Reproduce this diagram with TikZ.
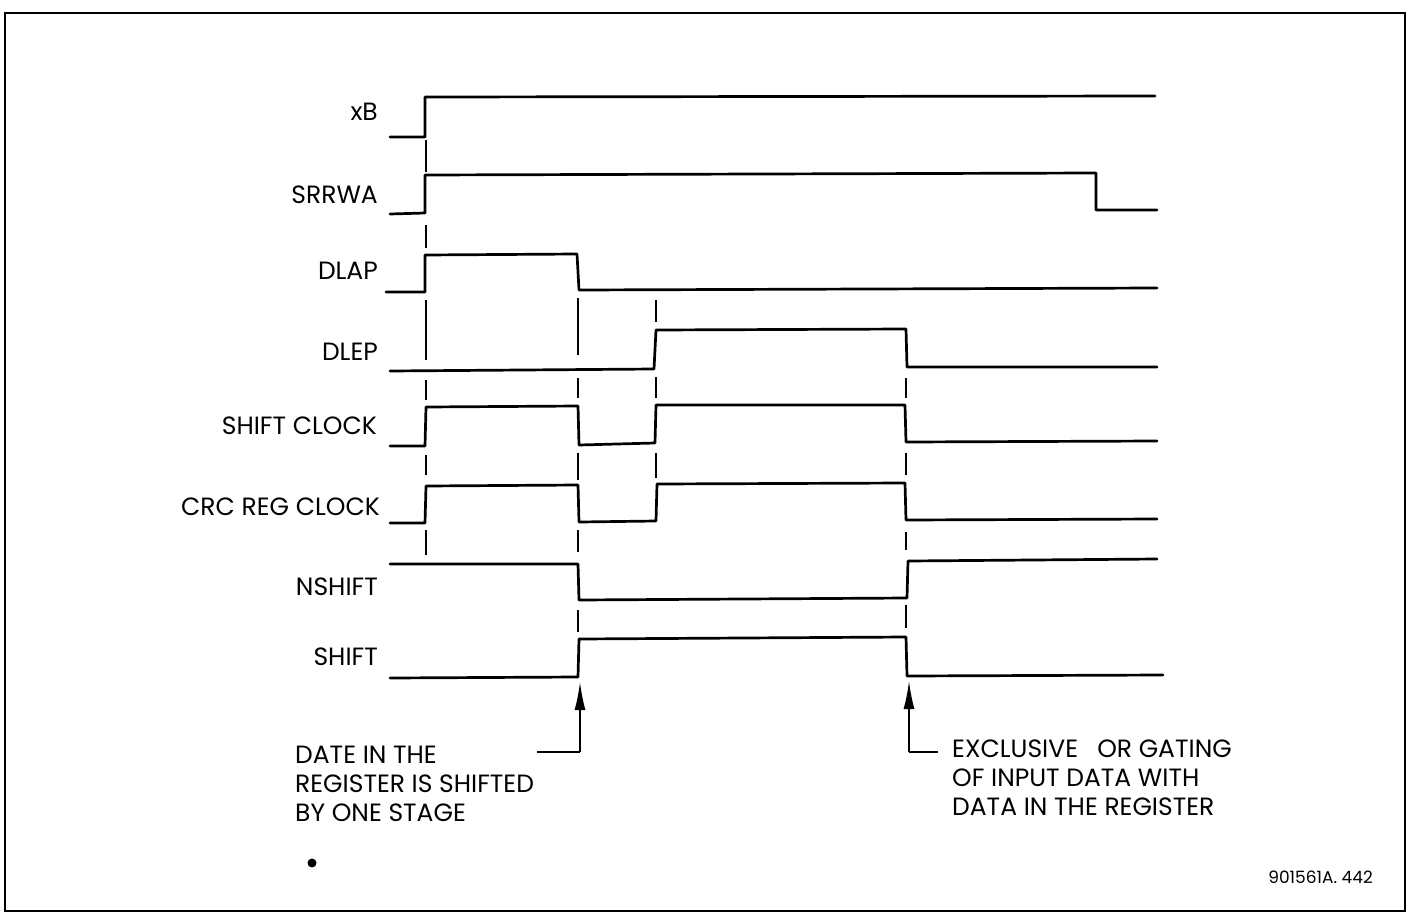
\documentclass[tikz,border=0pt]{standalone}
\usepackage{fontspec}
\setmainfont{Poppins}
\usetikzlibrary{arrows.meta}
\tikzset{
  wave/.style={line width=2.7pt, line join=round, line cap=round},
  guide/.style={line width=1.6pt},
  leader/.style={line width=1.8pt},
  pointer/.style={line width=1.8pt, -{Latex[length=28pt,width=11pt]}},
  sig/.style={anchor=base east, inner sep=0pt, font=\fontsize{25}{29}\selectfont},
  note/.style={anchor=base west, inner sep=0pt, align=left, font=\fontsize{25}{29}\selectfont},
  frame/.style={line width=2.8pt}
}
\begin{document}
\begin{tikzpicture}[x=1pt,y=-1pt]
\useasboundingbox (0,0) rectangle (1413,913);
\draw[frame] (5,13) rectangle (1405,911);
% signal labels
\node[sig] (lxb) at (378,120) {xB};
\node[sig] (lsrrwa) at (378,203) {SRRWA};
\node[sig] (ldlap) at (378,279) {DLAP};
\node[sig] (ldlep) at (378,360) {DLEP};
\node[sig] (lsc) at (377,434) {SHIFT CLOCK};
\node[sig] (lcrc) at (380,515) {CRC REG CLOCK};
\node[sig] (lnsh) at (378,595) {NSHIFT};
\node[sig] (lsh) at (378,665) {SHIFT};
% waveforms
\draw[wave] (390,137) -- (425,137) -- (425,97) -- (1155,96);
\draw[wave] (390,214) -- (425,213) -- (425,175) -- (1096,173) -- (1096,210) -- (1157,210);
\draw[wave] (386,292) -- (425,292) -- (425,255) -- (577,254) -- (579,290) -- (1157,288);
\draw[wave] (390,371) -- (654,369) -- (656,330) -- (906,329) -- (907,367) -- (1157,367);
\draw[wave] (390,446) -- (425,446) -- (426,407) -- (578,406) -- (579,445) -- (655,443) -- (656,405) -- (905,405) -- (906,442) -- (1157,441);
\draw[wave] (390,523) -- (425,523) -- (426,486) -- (578,485) -- (579,522) -- (656,521) -- (657,484) -- (905,483) -- (906,520) -- (1157,519);
\draw[wave] (390,564) -- (578,564) -- (579,600) -- (907,598) -- (908,561) -- (1157,559);
\draw[wave] (390,678) -- (578,677) -- (579,639) -- (906,637) -- (907,676) -- (1163,675);
% guide lines
\foreach \a/\b in {140/172, 225/248, 300/360, 380/400, 455/475, 530/555}
  \draw[guide] (426,\a) -- (426,\b);
\foreach \a/\b in {298/355, 378/398, 453/480, 530/552, 610/632}
  \draw[guide] (578,\a) -- (578,\b);
\foreach \a/\b in {300/322, 377/398, 453/478}
  \draw[guide] (656,\a) -- (656,\b);
\foreach \a/\b in {378/398, 453/475, 532/550, 605/628}
  \draw[guide] (906,\a) -- (906,\b);
% annotations
\coordinate (t1) at (580,682);
\coordinate (c1) at (580,752);
\coordinate (e1) at (537,752);
\coordinate (t2) at (909,681);
\coordinate (c2) at (909,752);
\coordinate (e2) at (938,752);
\draw[leader] (e1) -- (c1);
\draw[pointer] (c1) -- (t1);
\draw[leader] (e2) -- (c2);
\draw[pointer] (c2) -- (t2);
\node[note] (n1) at (295,821) {DATE IN THE\\REGISTER IS SHIFTED\\BY ONE STAGE};
\node[note] (n2) at (952,815) {EXCLUSIVE\hspace{0.5em} OR GATING\\OF INPUT DATA WITH\\DATA IN THE REGISTER};
\fill (312,863) circle (4.5);
\node[anchor=base east, inner sep=0pt, font=\fontsize{17}{20}\selectfont] (ref) at (1373,883) {901561A. 442};
\end{tikzpicture}
\end{document}
